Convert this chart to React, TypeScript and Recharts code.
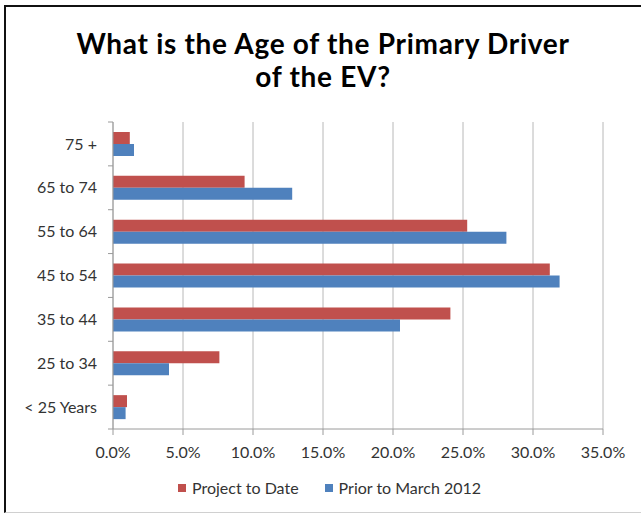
import React from 'react';
import { BarChart, Bar, XAxis, YAxis, CartesianGrid, Legend } from 'recharts';

const ageGroups = ['75 +', '65 to 74', '55 to 64', '45 to 54', '35 to 44', '25 to 34', '< 25 Years'];
const projectToDate = [1.2, 9.4, 25.3, 31.2, 24.1, 7.6, 1.0];
const priorToMarch2012 = [1.5, 12.8, 28.1, 31.9, 20.5, 4.0, 0.9];
const xTicks = [0, 5, 10, 15, 20, 25, 30, 35];

const seriesNames = { project: 'Project to Date', prior: 'Prior to March 2012' };
const colors = { project: '#C0504D', prior: '#4F81BD' };

const data = ageGroups.map((age, i) => ({
  age,
  project: projectToDate[i],
  prior: priorToMarch2012[i],
}));

const FONT = 'Lato, "Noto Sans", sans-serif';
const AXIS_GRAY = '#9a9a9a';
const TICK_SIZE = 6;
const TICK_MARGIN = 10;

// Category label with Excel-style tick marks drawn on the band boundaries
const CategoryTick = (props: any) => {
  const { x, y, payload, index, visibleTicksCount } = props;
  const half = payload.offset || 0;
  const axisX = x + TICK_SIZE + TICK_MARGIN;
  const isLast = index === (visibleTicksCount ?? ageGroups.length) - 1;
  return (
    <g>
      <line x1={axisX - 5} x2={axisX} y1={y - half} y2={y - half} stroke={AXIS_GRAY} />
      {isLast && (
        <line x1={axisX - 5} x2={axisX} y1={y + half} y2={y + half} stroke={AXIS_GRAY} />
      )}
      <text x={x} y={y} dy="0.35em" textAnchor="end" fill="#333" fontSize={16} fontFamily={FONT}>
        {payload.value}
      </text>
    </g>
  );
};

const LegendContent = () => (
  <div style={{ display: 'flex', justifyContent: 'flex-start', fontFamily: FONT, fontSize: 16, color: '#333', paddingLeft: 178 }}>
    {(['project', 'prior'] as const).map((k) => (
      <div key={k} style={{ display: 'flex', alignItems: 'center', marginRight: 26 }}>
        <span style={{ width: 8, height: 8, background: colors[k], display: 'inline-block', marginRight: 6 }} />
        <span>{seriesNames[k]}</span>
      </div>
    ))}
  </div>
);

export default function App() {
  return (
    <div style={{ position: 'absolute', left: 0, top: 0, width: 641, height: 513, background: '#fff', overflow: 'hidden' }}>
      <div
        style={{
          position: 'absolute',
          left: 4,
          top: 5,
          width: 700,
          height: 505,
          borderTop: '2px solid #111',
          borderLeft: '2px solid #111',
          borderBottom: '1px solid #d0d0d0',
        }}
      />
      <div
        style={{
          position: 'absolute',
          left: 0,
          top: 27,
          width: 646,
          textAlign: 'center',
          fontFamily: FONT,
          fontWeight: 700,
          fontSize: 28,
          letterSpacing: 0.7,
          lineHeight: '33px',
          color: '#000',
        }}
      >
        What is the Age of the Primary Driver
        <br />
        of the EV?
      </div>
      <div style={{ position: 'absolute', left: 0, top: 0 }}>
        <BarChart
          width={641}
          height={513}
          data={data}
          layout="vertical"
          margin={{ top: 122, right: 38, left: 0, bottom: 16 }}
          barCategoryGap={10}
          barGap={0}
        >
          <CartesianGrid horizontal={false} stroke="#b8b8b8" />
          <XAxis
            type="number"
            domain={[0, 35]}
            ticks={xTicks}
            interval={0}
            tickFormatter={(v: number) => `${v.toFixed(1)}%`}
            stroke={AXIS_GRAY}
            tickSize={6}
            tickMargin={12}
            height={49}
            tick={{ fill: '#333', fontSize: 16, fontFamily: FONT }}
          />
          <YAxis
            type="category"
            dataKey="age"
            width={113}
            stroke={AXIS_GRAY}
            tickLine={false}
            tickSize={TICK_SIZE}
            tickMargin={TICK_MARGIN}
            interval={0}
            tick={<CategoryTick />}
          />
          <Legend verticalAlign="bottom" content={<LegendContent />} />
          <Bar dataKey="project" name={seriesNames.project} fill={colors.project} isAnimationActive={false} />
          <Bar dataKey="prior" name={seriesNames.prior} fill={colors.prior} isAnimationActive={false} />
        </BarChart>
      </div>
    </div>
  );
}
